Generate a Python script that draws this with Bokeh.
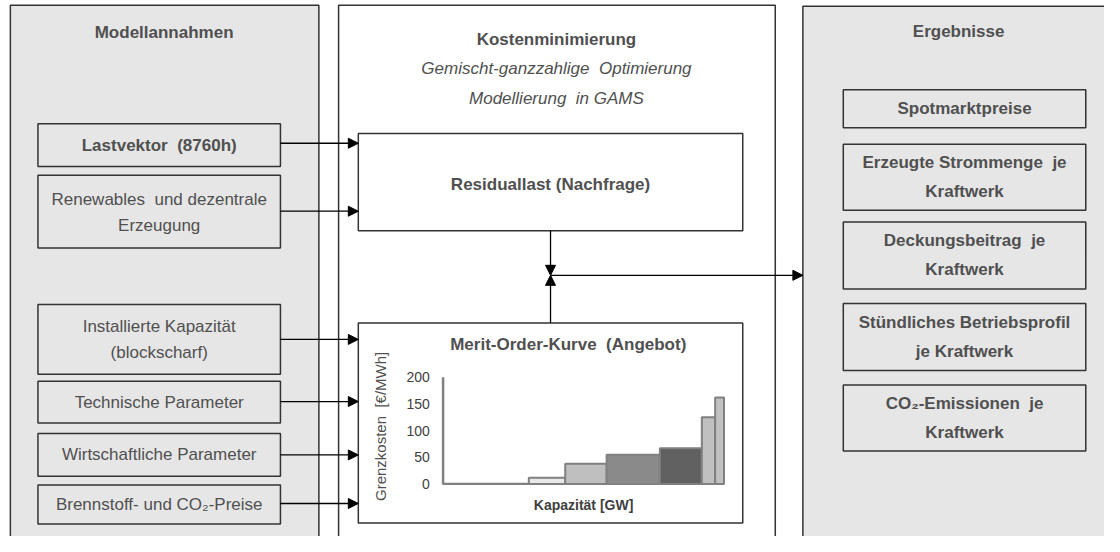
import math
from bokeh.plotting import figure
from bokeh.models import Range1d, Arrow, NormalHead, ColumnDataSource
from bokeh.core.properties import value
from bokeh.embed import file_html
from bokeh.resources import INLINE

# ---- data -------------------------------------------------------------
mo_capacity_gw = [29, 12.3, 14, 18, 14.2, 4.5, 3]          # block widths
mo_cost = [0.8, 12, 38, 55, 67, 125, 162]                    # €/MWh
mo_colors = ["#7f7f7f", "#e8e8e8", "#bfbfbf", "#8a8a8a", "#606060", "#c0c0c0", "#c0c0c0"]
cost_ticks = [0, 50, 100, 150, 200]

left_title = "Modellannahmen"
mid_title = "Kostenminimierung"
mid_sub = ["Gemischt-ganzzahlige\u00a0\u00a0Optimierung", "Modellierung\u00a0\u00a0in GAMS"]
right_title = "Ergebnisse"

left_boxes = [
    (["Lastvektor\u00a0\u00a0(8760h)"], True),
    (["Renewables\u00a0\u00a0und dezentrale", "Erzeugung"], False),
    (["Installierte Kapazität", "(blockscharf)"], False),
    (["Technische Parameter"], False),
    (["Wirtschaftliche Parameter"], False),
    (["Brennstoff- und CO\u2082-Preise"], False),
]
right_boxes = [
    ["Spotmarktpreise"],
    ["Erzeugte Strommenge\u00a0\u00a0je", "Kraftwerk"],
    ["Deckungsbeitrag\u00a0\u00a0je", "Kraftwerk"],
    ["Stündliches Betriebsprofil", "je Kraftwerk"],
    ["CO\u2082-Emissionen\u00a0\u00a0je", "Kraftwerk"],
]

# ---- layout (pixel positions of a 1120x552 sheet) ----------------------
FONT = value("Liberation Sans")
TXT = "#505050"
EDGE = "#333333"
W, H = 1120, 552

p = figure(width=1104, height=536, x_range=Range1d(0, W), y_range=Range1d(H, 0),
           output_backend="svg", toolbar_location=None, min_border=0,
           x_axis_location=None, y_axis_location=None)
p.grid.visible = False
p.outline_line_color = None
p.background_fill_color = "white"

# panels
p.quad(left=[10, 343, 814], right=[323, 786, 1135], top=[5, 5, 6], bottom=[570, 570, 570],
       fill_color=["#e6e6e6", "white", "#e6e6e6"], line_color=EDGE, line_width=1.5)


def label(x, y, t, size="17px", bold=False, italic=False, align="center", angle=0, **kw):
    style = "bold" if bold else ("italic" if italic else "normal")
    p.text(x=[x], y=[y], text=[t], text_font=FONT, text_font_size=size, text_font_style=style,
           text_color=TXT, text_align=align, text_baseline="middle", angle=angle, **kw)


label(166, 33, left_title, bold=True)
label(564, 40, mid_title, bold=True)
label(564, 70, mid_sub[0], italic=True)
label(564, 101, mid_sub[1], italic=True)
label(972, 32, right_title, bold=True)

# left boxes
lb_y = [(127, 171), (180, 255), (313, 385), (392, 435), (446, 490), (499, 539)]
arrow_y = [147, 217, 349, 413, 468, 518]
for (lines, bold), (t, b), ay in zip(left_boxes, lb_y, arrow_y):
    p.quad(left=[38], right=[284], top=[t], bottom=[b], fill_color="#e6e6e6",
           line_color=EDGE, line_width=1.5)
    c = (t + b) / 2
    if len(lines) == 1:
        label(161, c, lines[0], bold=bold)
    else:
        label(161, c - 13, lines[0], bold=bold)
        label(161, c + 14, lines[1], bold=bold)
    p.add_layout(Arrow(end=NormalHead(size=10, fill_color="black", line_color="black"),
                       x_start=284, y_start=ay, x_end=363, y_end=ay,
                       line_color="black", line_width=1.3))

# right boxes
rb_y = [(92, 131), (148, 216), (228, 297), (312, 381), (396, 464)]
for lines, (t, b) in zip(right_boxes, rb_y):
    p.quad(left=[855], right=[1101], top=[t], bottom=[b], fill_color="#e6e6e6",
           line_color=EDGE, line_width=1.5)
    c = (t + b) / 2
    if len(lines) == 1:
        label(978, c, lines[0], bold=True)
    else:
        label(978, c - 15, lines[0], bold=True)
        label(978, c + 15, lines[1], bold=True)

# middle boxes
p.quad(left=[363, 363], right=[753, 753], top=[137, 332], bottom=[237, 538],
       fill_color="white", line_color=EDGE, line_width=1.5)
label(558, 189, "Residuallast (Nachfrage)", bold=True)
label(576, 354, "Merit-Order-Kurve\u00a0\u00a0(Angebot)", bold=True)

# connecting arrows
head = dict(size=10, fill_color="black", line_color="black")
p.add_layout(Arrow(end=NormalHead(**head), x_start=558, y_start=237, x_end=558, y_end=283,
                   line_color="black", line_width=1.3))
p.add_layout(Arrow(end=NormalHead(**head), x_start=558, y_start=332, x_end=558, y_end=283,
                   line_color="black", line_width=1.3))
p.add_layout(Arrow(end=NormalHead(**head), x_start=558, y_start=283, x_end=814, y_end=283,
                   line_color="black", line_width=1.3))

# ---- merit order chart via extra ranges -------------------------------
X0, KX = 449.0, 3.0      # sheet x of capacity 0, units per GW
Y0, KY = 498.0, 0.55     # sheet y of cost 0, units per €/MWh
p.extra_x_ranges = {"cap": Range1d((0 - X0) / KX, (W - X0) / KX)}
p.extra_y_ranges = {"cost": Range1d((Y0 - H) / KY, (Y0 - 0) / KY)}

lefts, rights = [], []
acc = 0.0
for w in mo_capacity_gw:
    lefts.append(acc)
    acc += w
    rights.append(acc)
src = ColumnDataSource(dict(left=lefts, right=rights, top=mo_cost, bottom=[0] * len(mo_cost),
                            color=mo_colors))
p.quad(left="left", right="right", top="top", bottom="bottom", fill_color="color",
       line_color="#808080", line_width=2, source=src, x_range_name="cap", y_range_name="cost")

# y axis line
p.segment(x0=[0], y0=[0], x1=[0], y1=[cost_ticks[-1]], line_color="#808080", line_width=2.5,
          x_range_name="cap", y_range_name="cost")
p.text(x=[-4.5] * len(cost_ticks), y=cost_ticks, text=[str(t) for t in cost_ticks],
       text_font=FONT, text_font_size="14px", text_color="#404040", text_align="right",
       text_baseline="middle", x_range_name="cap", y_range_name="cost")
p.text(x=[-21], y=[108], text=["Grenzkosten\u00a0\u00a0[€/MWh]"], text_font=FONT,
       text_font_size="15px", text_color=TXT, text_align="center", text_baseline="middle",
       angle=math.pi / 2, x_range_name="cap", y_range_name="cost")
p.text(x=[acc / 2], y=[-40], text=["Kapazität [GW]"], text_font=FONT, text_font_size="14px",
       text_font_style="bold", text_color="#404040", text_align="center", text_baseline="middle",
       x_range_name="cap", y_range_name="cost")

open("out.html", "w").write(file_html(p, INLINE))
